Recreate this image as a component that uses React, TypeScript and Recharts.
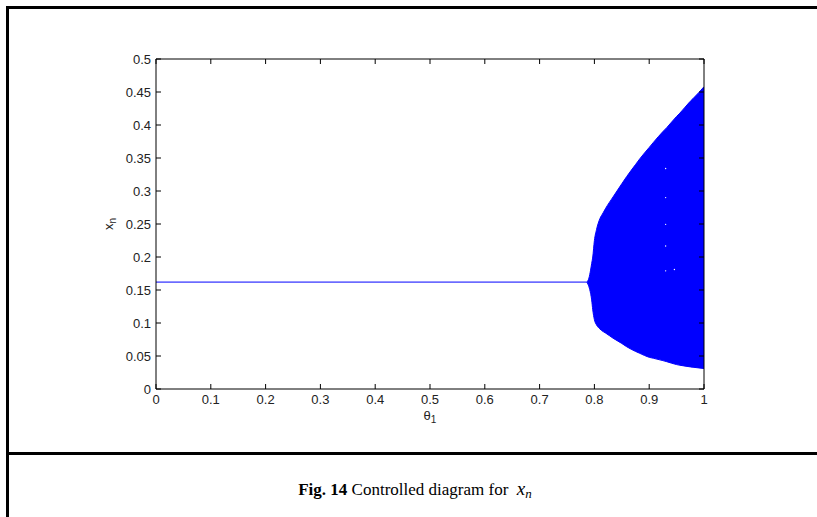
import React from "react";
import { ComposedChart, Line, Area, Scatter, XAxis, YAxis } from "recharts";

// steady state before the bifurcation
const fixedX = [0, 0.786];
const fixedY = 0.162;

// envelope of the chaotic band
const bandX = [0.786, 0.79, 0.793, 0.795, 0.797, 0.8, 0.804, 0.81, 0.816, 0.82, 0.834, 0.85, 0.859, 0.875, 0.883, 0.9, 0.908, 0.925, 0.932, 0.95, 0.956, 0.975, 0.98, 1.0];
const bandHigh = [0.162, 0.168, 0.18, 0.19, 0.2, 0.225, 0.242, 0.258, 0.267, 0.273, 0.291, 0.311, 0.322, 0.34, 0.349, 0.366, 0.374, 0.39, 0.396, 0.413, 0.418, 0.436, 0.44, 0.458];
const bandLow = [0.162, 0.155, 0.145, 0.135, 0.12, 0.105, 0.097, 0.091, 0.087, 0.085, 0.077, 0.069, 0.064, 0.057, 0.054, 0.048, 0.0465, 0.043, 0.0414, 0.037, 0.036, 0.0335, 0.033, 0.031];

// tiny holes visible inside the band
const holeX = [0.93, 0.93, 0.93, 0.93, 0.93, 0.946];
const holeY = [0.334, 0.29, 0.2495, 0.2167, 0.179, 0.181];

const xTicks = [0, 0.1, 0.2, 0.3, 0.4, 0.5, 0.6, 0.7, 0.8, 0.9, 1];
const xLabels = ["0", "0.1", "0.2", "0.3", "0.4", "0.5", "0.6", "0.7", "0.8", "0.9", "1"];
const yTicks = [0, 0.05, 0.1, 0.15, 0.2, 0.25, 0.3, 0.35, 0.4, 0.45, 0.5];
const yLabels = ["0", "0.05", "0.1", "0.15", "0.2", "0.25", "0.3", "0.35", "0.4", "0.45", "0.5"];

const data = [
  ...fixedX.slice(0, -1).map((x) => ({ x, fixed: fixedY })),
  ...bandX.map((x, i) => ({
    x,
    fixed: i === 0 ? fixedY : undefined,
    band: [bandLow[i], bandHigh[i]],
  })),
];
const holes = holeX.map((x, i) => ({ x, y: holeY[i] }));

const BLUE = "#0000ff";
const tickFont = { fontFamily: "Liberation Sans, Arial, sans-serif", fontSize: 13, fill: "#222" };

function makeTick(side: "bottom" | "top" | "left" | "right") {
  return (props: any) => {
    const { x, y, payload } = props;
    const v = payload.value;
    const len = 5;
    if (side === "bottom") {
      const label = xLabels[xTicks.indexOf(v)];
      return (
        <g>
          <line x1={x} y1={y} x2={x} y2={y - len} stroke="#000" />
          <text x={x} y={y + 15} textAnchor="middle" {...tickFont}>{label}</text>
        </g>
      );
    }
    if (side === "top") {
      return <line x1={x} y1={y} x2={x} y2={y + len} stroke="#000" />;
    }
    if (side === "left") {
      const label = yLabels[yTicks.indexOf(v)];
      return (
        <g>
          <line x1={x} y1={y} x2={x + len} y2={y} stroke="#000" />
          <text x={x - 5} y={y + 5} textAnchor="end" {...tickFont}>{label}</text>
        </g>
      );
    }
    return <line x1={x} y1={y} x2={x - len} y2={y} stroke="#000" />;
  };
}

export default function App() {
  return (
    <div style={{ position: "absolute", left: 0, top: 0, width: 817, height: 517, background: "#fff", overflow: "hidden" }}>
      <div style={{ position: "absolute", left: 6, top: 6, width: 820, height: 520, borderLeft: "3px solid #000", borderTop: "3px solid #000" }} />
      <div style={{ position: "absolute", left: 6, top: 452, width: 820, height: 3, background: "#000" }} />

      <div style={{ position: "absolute", left: 0, top: 0 }}>
        <ComposedChart width={817} height={450} data={data} margin={{ top: 58, right: 112, left: 0, bottom: 0 }}>
          <XAxis dataKey="x" type="number" domain={[0, 1]} ticks={xTicks} interval={0}
            axisLine={{ stroke: "#000" }} tickLine={false} tickSize={0} tickMargin={0} height={61}
            tick={makeTick("bottom")} allowDataOverflow />
          <XAxis xAxisId="top" orientation="top" dataKey="x" type="number" domain={[0, 1]} ticks={xTicks} interval={0}
            axisLine={{ stroke: "#000" }} tickLine={false} tickSize={0} tickMargin={0} height={1}
            tick={makeTick("top")} allowDataOverflow />
          <YAxis type="number" domain={[0, 0.5]} ticks={yTicks} interval={0}
            axisLine={{ stroke: "#000" }} tickLine={false} tickSize={0} tickMargin={0} width={156}
            tick={makeTick("left")} allowDataOverflow />
          <YAxis yAxisId="right" orientation="right" type="number" domain={[0, 0.5]} ticks={yTicks} interval={0}
            axisLine={{ stroke: "#000" }} tickLine={false} tickSize={0} tickMargin={0} width={1}
            tick={makeTick("right")} allowDataOverflow />
          <Area dataKey="band" type="monotone" stroke={BLUE} strokeWidth={1} fill={BLUE} fillOpacity={1}
            isAnimationActive={false} dot={false} activeDot={false} />
          <Line dataKey="fixed" type="linear" stroke={BLUE} strokeWidth={1} dot={false} activeDot={false}
            isAnimationActive={false} />
          <Scatter data={holes} dataKey="y" fill="#fff" isAnimationActive={false}
            shape={(p: any) => <circle cx={p.cx} cy={p.cy} r={0.7} fill="#fff" />} />
        </ComposedChart>
      </div>

      <div style={{ position: "absolute", left: 110, top: 224, transform: "translate(-50%, -50%) rotate(-90deg)", ...labelStyle }}>
        x<sub style={{ fontSize: 10 }}>n</sub>
      </div>
      <div style={{ position: "absolute", left: 430, top: 417, transform: "translate(-50%, -50%)", ...labelStyle }}>
        θ<sub style={{ fontSize: 10 }}>1</sub>
      </div>

      <div style={{ position: "absolute", left: 415, top: 490, transform: "translate(-50%, -50%)", whiteSpace: "nowrap",
        fontFamily: "Liberation Serif, Times New Roman, serif", fontSize: 17, color: "#000" }}>
        <b>Fig. 14</b> Controlled diagram for&nbsp;&nbsp;<i style={{ fontSize: 19 }}>x</i><i style={{ fontSize: 13, verticalAlign: "-3px" }}>n</i>
      </div>
    </div>
  );
}

const labelStyle: React.CSSProperties = {
  fontFamily: "Liberation Sans, Arial, sans-serif",
  fontSize: 13,
  color: "#222",
  whiteSpace: "nowrap",
  lineHeight: 1,
};
